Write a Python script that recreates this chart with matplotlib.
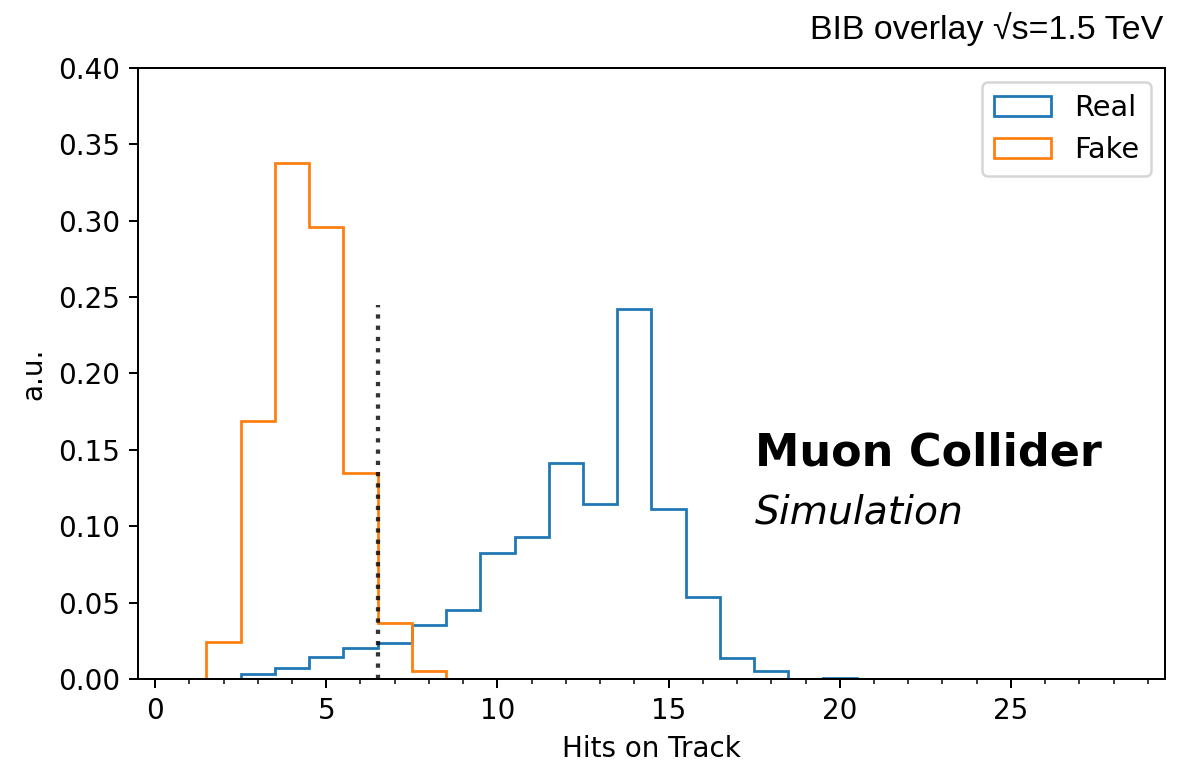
import numpy as np
import matplotlib; matplotlib.use("Agg")
import matplotlib.pyplot as plt
from matplotlib.ticker import MultipleLocator

# fraction of tracks per number of hits (normalised to unit area)
real_hits = [3, 4, 5, 6, 7, 8, 9, 10, 11, 12, 13, 14, 15, 16, 17, 18, 20]
real_frac = [0.003, 0.007, 0.0146, 0.0205, 0.0234, 0.0353, 0.045, 0.0825, 0.093,
             0.1414, 0.1143, 0.2422, 0.111, 0.0535, 0.0135, 0.0054, 0.0004]
fake_hits = [2, 3, 4, 5, 6, 7, 8]
fake_frac = [0.0242, 0.169, 0.338, 0.296, 0.135, 0.0365, 0.0052]

hit_cut = 6.5
cut_line_top = 0.245

edges = np.arange(-0.5, 30.0, 1.0)

plt.rcParams["font.size"] = 11.1

fig = plt.figure(figsize=(1180 / 180, 762 / 180), dpi=180)
ax = fig.add_axes([0.1169, 0.1089, 0.8704, 0.8019])

ax.hist(real_hits, bins=edges, weights=real_frac, histtype="step", color="C0",
        linewidth=1.1, label="Real")
ax.hist(fake_hits, bins=edges, weights=fake_frac, histtype="step", color="C1",
        linewidth=1.1, label="Fake")
ax.vlines(hit_cut, 0, cut_line_top, colors="k", linestyles=":", linewidth=1.7, alpha=0.8)

ax.set_xlim(-0.5, 29.5)
ax.set_ylim(0, 0.40)
ax.xaxis.set_minor_locator(MultipleLocator(1))
ax.set_xlabel("Hits on Track")
ax.set_ylabel("a.u.")
ax.yaxis.set_label_coords(-0.0886, 0.5)
ax.legend(loc="upper right", fontsize=11.5)

ax.text(0.998, 1.0475, "BIB overlay \u221as=1.5 TeV", transform=ax.transAxes,
        ha="right", va="baseline", fontsize=13.6,
        family=["Liberation Sans", "DejaVu Sans"])
ax.text(0.601, 0.350, "Muon Collider", transform=ax.transAxes,
        ha="left", va="baseline", fontsize=17.8, fontweight="bold")
ax.text(0.601, 0.255, "Simulation", transform=ax.transAxes,
        ha="left", va="baseline", fontsize=15.7, fontstyle="italic")

fig.savefig("out.png", dpi=180)
